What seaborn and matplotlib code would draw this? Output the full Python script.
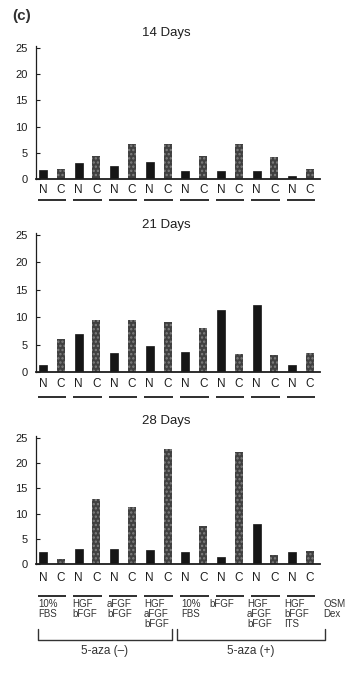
import matplotlib
matplotlib.use("Agg")
import matplotlib.pyplot as plt
import matplotlib.transforms as mtransforms
import numpy as np
import pandas as pd
import seaborn as sns

# ---- data ----
conditions = ["10%\nFBS", "HGF\nbFGF", "aFGF\nbFGF", "HGF\naFGF\nbFGF",
              "10%\nFBS", "bFGF", "HGF\naFGF\nbFGF", "HGF\nbFGF\nITS"]
groups = ["5-aza (\u2013)", "5-aza (+)"]
days = ["14 Days", "21 Days", "28 Days"]
n14 = [1.8, 3.0, 2.4, 3.2, 1.6, 1.5, 1.45, 0.6]
c14 = [1.95, 4.4, 6.6, 6.7, 4.4, 6.7, 4.25, 1.85]
n21 = [1.35, 7.0, 3.4, 4.8, 3.7, 11.3, 12.2, 1.3]
c21 = [6.0, 9.5, 9.5, 9.1, 8.1, 3.2, 3.1, 3.5]
n28 = [2.45, 3.0, 3.0, 2.8, 2.4, 1.3, 7.9, 2.3]
c28 = [1.0, 12.8, 11.25, 22.9, 7.6, 22.3, 1.8, 2.6]
yticks = [0, 5, 10, 15, 20, 25]
side_label = "OSM\nDex"

sns.set_theme(style="ticks")
plt.rcParams["font.family"] = ["Liberation Sans", "DejaVu Sans"]
plt.rcParams["hatch.linewidth"] = 1.1

W, H = 355, 684
fig = plt.figure(figsize=(W / 100, H / 100), dpi=100)
fig.patch.set_facecolor("white")

def fy(py):
    return 1 - py / H

ink = "#1e1e1e"
# (bottom px, px per 25 units, title y px, tick pad, underline y px)
panels = [
    (179, 131, 33, 3.5, 200),
    (372, 137, 225, 4.5, 397),
    (564, 126, 421, 6.0, 596),
]
series = [(n14, c14), (n21, c21), (n28, c28)]
left_px, right_px = 36, 320
ymax = 25.4
xlo, xhi = -0.39, 15.56

axes = []
for (bot, h25, ty, pad, uy), (nv, cv), title in zip(panels, series, days):
    hpx = h25 * ymax / 25
    ax = fig.add_axes([left_px / W, fy(bot), (right_px - left_px) / W, hpx / H])
    rows = []
    for i in range(len(conditions)):
        rows.append({"bar": f"N{i}", "kind": "N", "value": nv[i]})
        rows.append({"bar": f"C{i}", "kind": "C", "value": cv[i]})
    df = pd.DataFrame(rows)
    order = list(df["bar"])
    sns.barplot(data=df, x="bar", y="value", hue="kind", order=order,
                hue_order=["N", "C"], dodge=False, width=0.45, saturation=1,
                palette={"N": "#161616", "C": "#404040"}, legend=False, ax=ax)
    for p in ax.patches:
        xc = p.get_x() + p.get_width() / 2
        idx = int(round(xc))
        if idx % 2 == 1:
            p.set_edgecolor("#808080")
            p.set_hatch("....")
            p.set_linewidth(0)
        else:
            p.set_edgecolor("#161616")
            p.set_linewidth(0.5)
    ax.set_xlim(xlo, xhi)
    ax.set_ylim(0, ymax)
    ax.set_yticks(yticks)
    ax.set_yticklabels([str(t) for t in yticks], fontsize=8, color=ink)
    ax.set_xticks(range(len(order)))
    ax.set_xticklabels([b[0] for b in order], fontsize=8.5, color=ink)
    ax.tick_params(axis="y", direction="in", length=3, width=0.8, pad=6, colors=ink)
    ax.tick_params(axis="x", length=0, pad=pad, colors=ink)
    ax.set_xlabel("")
    ax.set_ylabel("")
    for s in ["top", "right"]:
        ax.spines[s].set_visible(False)
    ax.spines["left"].set_linewidth(0.9)
    ax.spines["bottom"].set_linewidth(1.3)
    ax.spines["left"].set_color(ink)
    ax.spines["bottom"].set_color(ink)
    ax.set_facecolor("white")
    fig.text(166 / W, fy(ty), title, ha="center", va="center", fontsize=9.5, color=ink)
    tr = mtransforms.blended_transform_factory(ax.transData, fig.transFigure)
    for i in range(len(conditions)):
        ax.plot([2 * i - 0.3, 2 * i + 1.3], [fy(uy), fy(uy)], transform=tr,
                color=ink, lw=1.3, clip_on=False, solid_capstyle="butt")
    axes.append(ax)

ax3 = axes[-1]
# condition labels
label_left_px = [38, 72, 107, 144, 181, 209, 247, 284]
for lab, lx in zip(conditions, label_left_px):
    fig.text(lx / W, fy(599), lab, ha="left", va="top", fontsize=7,
             color="#333333", linespacing=0.98)
fig.text(323 / W, fy(599), side_label, ha="left", va="top", fontsize=7,
         color="#333333", linespacing=0.98)

# brackets
tr3 = mtransforms.blended_transform_factory(ax3.transData, fig.transFigure)
brackets = [(-0.28, 7.25), (7.53, 15.84)]
for (a, b), g in zip(brackets, groups):
    ax3.plot([a, a, b, b], [fy(629), fy(640), fy(640), fy(629)], transform=tr3,
             color="#333333", lw=1.0, clip_on=False)
    fig.text((a + b) / 2, fy(651), g, transform=tr3, ha="center", va="center",
             fontsize=8.5, color="#333333")

fig.text(12 / W, fy(16), "(c)", ha="left", va="center", fontsize=11,
         fontweight="bold", color="#333333")

fig.savefig("out.png", dpi=100, facecolor="white")
